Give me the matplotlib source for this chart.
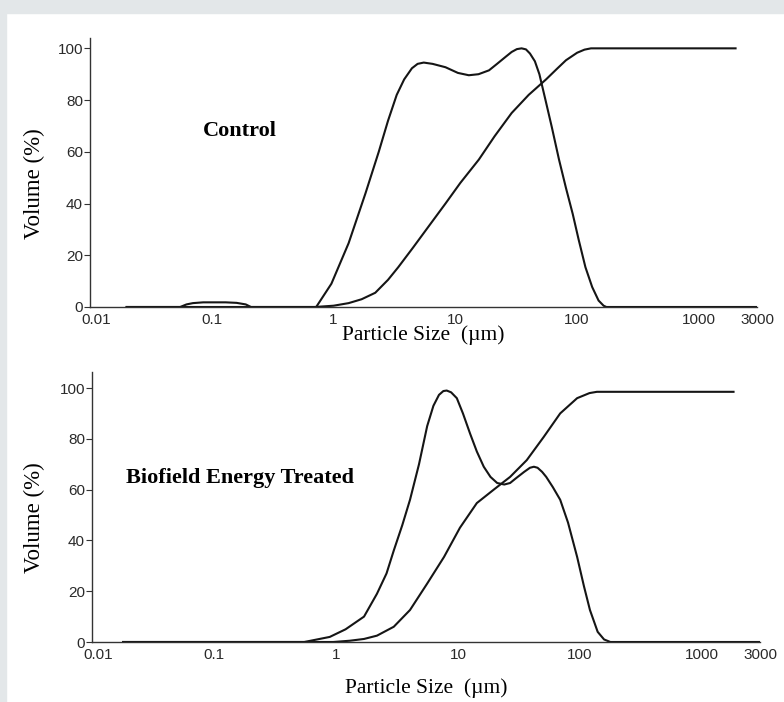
import numpy as np
import matplotlib
matplotlib.use('Agg')
import matplotlib.pyplot as plt
import matplotlib.transforms as mtransforms
from matplotlib.patches import Rectangle

## Data: particle size (um) vs volume (%)
# Control - differential curve
ctrl_diff_size = [0.02, 0.055, 0.062, 0.07, 0.085, 0.1, 0.13, 0.16, 0.19, 0.21, 0.72, 0.96,
                  1.33, 1.83, 2.35, 2.8, 3.3, 3.8, 4.4, 4.9, 5.5, 6.5, 8.3, 10.5, 12.9, 15.5,
                  18.9, 22, 26, 29, 32, 35, 38, 41, 45, 49, 55, 62, 71, 81, 92, 103, 117, 133,
                  150, 165, 174, 3000]
ctrl_diff_vol = [0, 0, 1.0, 1.5, 1.8, 1.8, 1.8, 1.6, 1.0, 0, 0, 9,
                 24.7, 44, 60, 72, 82, 88, 92.3, 94, 94.5, 94, 92.7, 90.5, 89.6, 90,
                 91.5, 94, 96.8, 98.6, 99.7, 100, 99.6, 98, 95, 90, 80, 69.5, 57, 46, 36, 26, 15.4, 7.7,
                 2.5, 0.5, 0, 0]
# Control - cumulative curve
ctrl_cum_size = [0.02, 0.7, 1.0, 1.33, 1.7, 2.2, 2.8, 3.4, 4.5, 6, 8.3, 11, 15.6, 21, 29,
                 40, 55.6, 68, 81, 100, 115, 130, 2000]
ctrl_cum_vol = [0, 0, 0.5, 1.5, 3, 5.5, 10.5, 15.4, 23, 31, 40, 48, 57, 66, 75,
                82, 88, 92, 95.4, 98.3, 99.5, 100, 100]

# Biofield Energy Treated - differential curve
trt_diff_size = [0.018, 0.55, 0.89, 1.2, 1.7, 2.17, 2.6, 2.98, 3.5, 4.05, 4.8, 5.6, 6.3, 7.0,
                 7.6, 8.1, 8.8, 9.8, 11, 12.6, 14.3, 16.3, 18.5, 21, 24, 26.8, 30, 35, 39, 42,
                 45, 49, 53, 60, 69, 80, 95, 108, 121, 140, 158, 178, 3000]
trt_diff_vol = [0, 0, 2, 5, 10, 19, 27, 36, 46, 56, 70, 85, 93, 97.3,
                98.8, 99, 98.3, 96, 90, 82, 75, 69, 65, 62.6, 62, 62.6, 64.5, 67, 68.6, 69,
                68.6, 67, 65, 61, 56, 47, 33.5, 22, 12.6, 4, 1, 0, 0]
# Biofield Energy Treated - cumulative curve
trt_cum_size = [0.018, 0.95, 1.3, 1.7, 2.17, 2.98, 4.05, 5.6, 7.7, 10.4, 14.3, 19.7, 26.8,
                36.7, 50.5, 69, 95, 120, 138, 1820]
trt_cum_vol = [0, 0, 0.5, 1.2, 2.5, 6, 12.6, 23, 33.5, 45, 54.7, 60, 65,
               71.6, 80.7, 90, 96, 98, 98.5, 98.5]

xtick_vals = [0.01, 0.1, 1, 10, 100, 1000, 3000]
xtick_labels = ['0.01', '0.1', '1', '10', '100', '1000', '3000']
ytick_vals = [0, 20, 40, 60, 80, 100]

W, H = 784, 702
fig = plt.figure(figsize=(W / 100, H / 100), dpi=100)
fig.patch.set_facecolor('white')

# grey frame strips (top and left)
fig.add_artist(Rectangle((0, 1 - 13 / H), 1, 13 / H, transform=fig.transFigure,
                         color='#e3e7e9', zorder=0))
fig.add_artist(Rectangle((0, 0), 6 / W, 1, transform=fig.transFigure,
                         color='#e3e7e9', zorder=0))

line_col = '#151515'
serif = 'Liberation Serif'
sans = 'Liberation Sans'


def make_panel(px_left, px_right, px_zero, px_top, ymax, xlab_off, ylab_x):
    ax = fig.add_axes([px_left / W, 1 - px_zero / H,
                       (px_right - px_left) / W, (px_zero - px_top) / H])
    ax.set_xscale('log')
    ax.set_xlim(0.01, 3000)
    ax.set_ylim(0, ymax)
    for s in ['top', 'right']:
        ax.spines[s].set_visible(False)
    for s in ['left', 'bottom']:
        ax.spines[s].set_linewidth(1.0)
        ax.spines[s].set_color('#333333')
    ax.set_xticks(xtick_vals)
    ax.set_xticklabels(xtick_labels)
    ax.xaxis.set_minor_locator(matplotlib.ticker.NullLocator())
    ax.set_yticks(ytick_vals)
    ax.tick_params(axis='x', length=0, pad=4, labelsize=11, labelcolor='#2a2a2a')
    ax.tick_params(axis='y', length=4, width=0.8, pad=1, labelsize=11,
                   labelcolor='#2a2a2a', color='#333333')
    for lab in ax.get_xticklabels() + ax.get_yticklabels():
        lab.set_fontfamily(sans)
    # the first x label sits a little right of the axis corner
    first = ax.get_xticklabels()[0]
    first.set_transform(first.get_transform() +
                        mtransforms.ScaledTranslation(6 / 100, 0, fig.dpi_scale_trans))
    ax.set_xlabel('Particle Size  (\u00b5m)', fontsize=15.5, family=serif)
    ax.xaxis.set_label_coords(0.5, xlab_off)
    ax.xaxis.label.set_va('center')
    ax.set_ylabel('Volume (%)', fontsize=16.5, family=serif)
    ax.yaxis.set_label_coords(ylab_x, 0.46)
    ax.yaxis.label.set_va('center')
    return ax


# Control panel
ax1 = make_panel(90, 757, 307, 38, 104, -0.104, -0.083)
ax1.plot(ctrl_diff_size, ctrl_diff_vol, color=line_col, lw=1.5)
ax1.plot(ctrl_cum_size, ctrl_cum_vol, color=line_col, lw=1.5)
ax1.text(0.085, 68, 'Control', fontsize=16, fontweight='bold', family=serif,
         va='center', ha='left')

# Treated panel
ax2 = make_panel(92, 760, 642, 372, 106.3, -0.170, -0.086)
ax2.plot(trt_diff_size, trt_diff_vol, color=line_col, lw=1.5)
ax2.plot(trt_cum_size, trt_cum_vol, color=line_col, lw=1.5)
ax2.text(0.019, 64.5, 'Biofield Energy Treated', fontsize=16, fontweight='bold',
         family=serif, va='center', ha='left')

fig.savefig('out.png', dpi=100, facecolor=fig.get_facecolor())
